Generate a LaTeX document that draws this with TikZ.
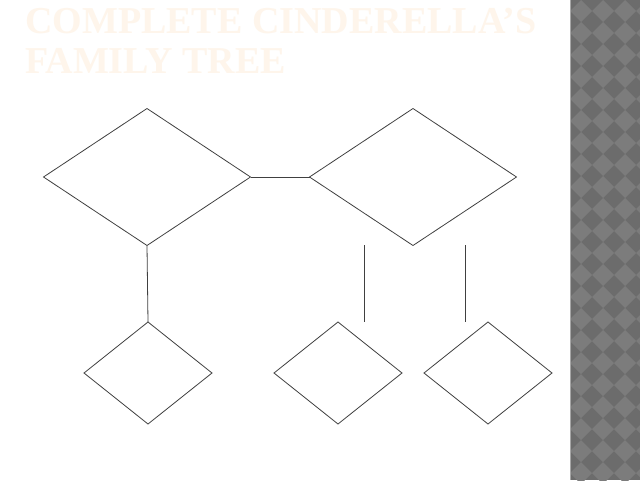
\documentclass[tikz,border=0pt]{standalone}
\usepackage{fontspec}
\setmainfont{Liberation Serif}
\usetikzlibrary{shapes.geometric}

\definecolor{titlecol}{RGB}{254,245,235}
\definecolor{linecol}{RGB}{64,64,64}
\definecolor{stripdark}{RGB}{108,108,108}
\definecolor{striplight}{RGB}{124,124,124}

\begin{document}
\begin{tikzpicture}[
      x=1pt, y=-1pt,
      dia/.style={diamond, draw=linecol, line width=0.8pt, inner sep=0pt, outer sep=0pt},
      big/.style={dia, minimum width=207pt, minimum height=137pt},
      small/.style={dia, minimum width=128pt, minimum height=102pt},
      link/.style={draw=linecol, line width=0.8pt}
    ]
    \useasboundingbox (0,0) rectangle (640,480);
    \fill[white] (0,0) rectangle (640,480);

    % Faixa lateral
    \fill[stripdark] (570,0) rectangle (640,480);
    \begin{scope}
      \clip (570,0) rectangle (640,480);
      \foreach \i in {0,...,4} {
        \foreach \j in {0,...,22} {
          \fill[striplight] (570+22*\i,11+22*\j) -- ++(11,-11) -- ++(11,11) -- ++(-11,11) -- cycle;
        }
      }
    \end{scope}
    \draw[gray!70, line width=0.6pt] (570.3,0) -- (570.3,480);

    % Titulo
    \node[anchor=base west, inner sep=0pt, text=titlecol, font=\bfseries\fontsize{38}{38}\selectfont] (title1) at (25,33) {COMPLETE CINDERELLA'S};
    \node[anchor=base west, inner sep=0pt, text=titlecol, font=\bfseries\fontsize{38}{38}\selectfont] (title2) at (25,73) {FAMILY TREE};

    % Pais
    \node[big] (pL) at (147,177) {};
    \node[big] (pR) at (413,177) {};

    % Filhos
    \node[small] (c1) at (148,373) {};
    \node[small] (c2) at (338,373) {};
    \node[small] (c3) at (488,373) {};

    \coordinate (s1top) at (364,245);
    \coordinate (s1bot) at (364,322);
    \coordinate (s2top) at (465,245);
    \coordinate (s2bot) at (465,322);

    \draw[link] (pL.east) -- (pR.west);
    \draw[link] (pL.south) -- (c1.north);
    \draw[link] (s1top) -- (s1bot);
    \draw[link] (s2top) -- (s2bot);

  \end{tikzpicture}
\end{document}
